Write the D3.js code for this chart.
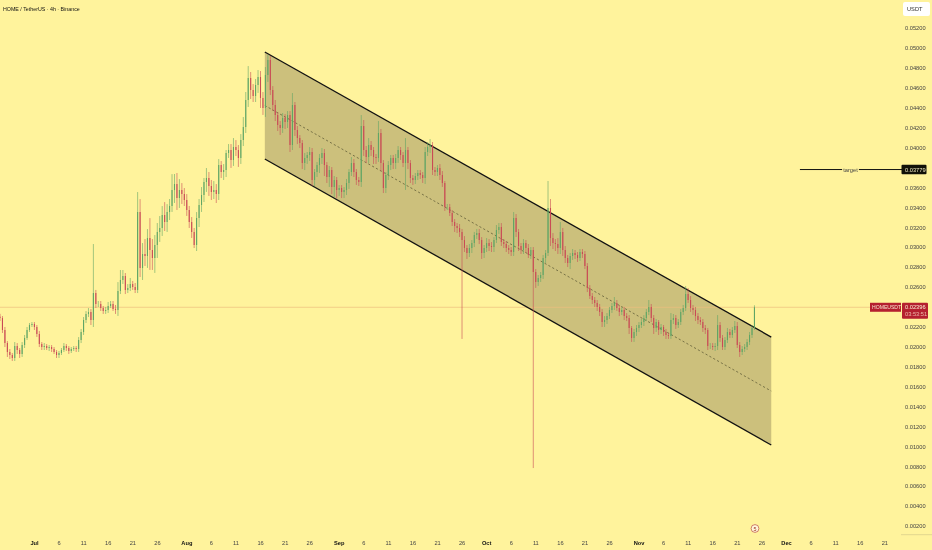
<!DOCTYPE html>
<html>
<head>
<meta charset="utf-8">
<title>HOMEUSDT</title>
<script src="https://cdnjs.cloudflare.com/ajax/libs/d3/7.8.5/d3.min.js"></script>
<style>
html,body{margin:0;padding:0;background:#FFF39C;overflow:hidden;}
text{font-family:"Liberation Sans",Arial,sans-serif;}
</style>
</head>
<body>
<script>
//=======================================================================
// prices are in units of 0.00001 USDT, one bar every 12h from the left edge
var v_FirstBar = "2025-06-24T02:00:00Z";
var v_FirstOpen = 2300;
var v_Closes = [
	2288,2168,2037,1947,1917,1887,2007,1967,1927,2017,
	2088,2168,2218,2228,2198,2128,2027,1997,2007,1987,
	1997,1977,1947,1917,1937,1967,2007,1987,1957,1977,
	1987,1977,2067,2148,2268,2328,2348,2268,2540,2429,
	2429,2389,2359,2369,2409,2429,2379,2369,2559,2670,
	2710,2569,2589,2630,2600,2569,3352,2790,2931,2911,
	3091,2971,2891,3021,3152,3192,3322,3252,3352,3413,
	3573,3634,3493,3573,3533,3473,3373,3252,3152,3021,
	3292,3423,3523,3654,3694,3614,3553,3573,3533,3824,
	3754,3774,3945,3975,3875,4005,3975,3895,4075,4206,
	4477,4698,4577,4517,4628,4708,4497,4397,4728,4879,
	4577,4427,4326,4226,4196,4296,4256,4326,4025,4427,
	4176,4095,4045,3844,3895,3925,3955,3674,3754,3824,
	3895,3945,3824,3704,3774,3603,3674,3573,3593,3553,
	3573,3644,3754,3844,3754,3674,3654,4216,3975,3905,
	4025,3975,3905,3895,4146,3844,3593,3724,3824,3895,
	3844,3895,3975,3925,3844,3975,3844,3694,3674,3714,
	3744,3724,3694,3955,4005,4025,3774,3754,3794,3724,
	3644,3403,3403,3342,3252,3212,3192,3152,3071,2991,
	2941,2991,3041,3122,3142,3071,2941,2991,3041,3011,
	3001,3071,3172,3202,3051,3031,2991,2971,2951,3292,
	3152,3011,2971,3041,2991,2921,2971,2750,2650,2690,
	2720,2891,2941,3393,3091,3041,3031,2991,3152,2971,
	2891,2840,2911,2941,2921,2891,2951,2931,2810,2589,
	2509,2469,2439,2399,2348,2248,2268,2308,2369,2409,
	2439,2389,2348,2369,2308,2288,2188,2088,2148,2188,
	2218,2248,2288,2348,2399,2288,2188,2248,2168,2198,
	2148,2118,2108,2268,2288,2218,2248,2348,2389,2529,
	2469,2389,2369,2308,2268,2248,2188,2168,2007,2007,
	1997,2007,2218,2088,1997,2067,2148,2118,2168,2208,
	2017,1947,1977,1997,2047,2118,2188,2396
];
var v_WicksUp = [
	30,20,30,20,30,20,40,30,20,30,
	30,30,20,20,20,20,30,20,30,20,
	20,20,20,20,20,20,30,20,20,20,
	20,20,30,30,30,30,40,30,491,30,
	30,30,20,30,40,30,30,40,90,100,
	60,30,40,60,30,40,201,130,110,150,
	90,200,110,100,90,120,90,130,80,70,
	160,100,110,110,70,60,60,40,50,40,
	60,60,80,40,100,60,60,90,60,60,
	40,60,30,60,60,90,70,50,60,100,
	80,120,60,60,60,70,60,60,80,50,
	40,40,50,30,40,50,40,40,40,120,
	30,40,30,30,50,30,50,40,30,30,
	40,50,40,30,40,30,40,30,30,30,
	30,40,30,60,40,30,30,110,60,40,
	70,40,30,30,120,40,30,30,40,30,
	30,40,40,30,30,120,30,30,30,30,
	30,30,30,50,50,60,30,30,30,40,
	40,20,30,30,30,30,30,40,30,40,
	30,40,30,30,40,40,30,30,50,40,
	40,30,50,40,40,30,30,30,30,60,
	40,30,30,40,30,40,30,30,30,30,
	30,30,30,271,90,50,40,60,100,40,
	40,30,30,40,30,30,30,30,30,30,
	30,30,30,30,30,30,40,30,30,30,
	60,30,30,30,30,30,30,20,30,30,
	30,30,30,30,70,30,30,30,20,30,
	20,30,20,70,40,30,30,30,30,80,
	60,40,30,30,30,30,30,30,20,30,
	30,30,100,30,30,30,40,30,30,50,
	40,30,30,30,30,30,30,20
];
var v_WicksDown = [
	30,30,40,50,40,30,30,40,40,30,
	30,20,20,20,30,30,30,30,30,20,
	30,30,20,30,30,20,20,30,30,20,
	20,30,30,30,30,30,30,50,70,40,
	30,30,30,30,30,20,20,40,60,30,
	40,40,30,30,30,30,30,90,120,100,
	120,200,120,150,130,100,80,90,100,80,
	60,130,120,100,100,60,60,60,60,30,
	60,90,70,70,100,100,80,70,90,60,
	60,80,70,50,80,60,60,90,60,60,
	60,70,90,60,60,80,100,70,90,70,
	50,60,60,60,70,50,70,60,70,50,
	60,60,50,60,70,60,60,60,60,50,
	80,60,110,60,100,70,100,80,60,60,
	60,50,60,40,50,50,40,50,60,60,
	60,60,70,60,40,80,50,50,50,50,
	60,60,50,50,40,270,60,50,50,40,
	40,40,50,60,40,60,50,40,40,50,
	40,40,30,30,40,60,50,50,993,40,
	60,40,50,40,40,40,60,50,40,50,
	50,50,30,40,40,40,40,40,40,40,
	50,50,40,40,50,30,40,1968,60,40,
	40,40,50,30,80,60,70,60,60,60,
	50,40,60,40,40,40,30,40,30,40,
	30,40,40,40,40,50,50,40,30,30,
	40,30,40,30,40,30,60,40,40,40,
	40,30,40,30,30,40,60,40,50,40,
	40,40,30,30,40,40,30,30,30,30,
	30,40,50,50,40,30,40,40,40,30,
	30,40,40,40,30,30,30,30,30,30,
	30,50,30,30,30,30,30,20
];
var v_PriceTicks = [200,400,600,800,1000,1200,1400,1600,1800,2000,2200,2400,2600,2800,3000,3200,3400,3600,3800,4000,4200,4400,4600,4800,5000,5200];
var v_DateTicks = [
	"2025-07-01","2025-07-06","2025-07-11","2025-07-16","2025-07-21","2025-07-26",
	"2025-08-01","2025-08-06","2025-08-11","2025-08-16","2025-08-21","2025-08-26",
	"2025-09-01","2025-09-06","2025-09-11","2025-09-16","2025-09-21","2025-09-26",
	"2025-10-01","2025-10-06","2025-10-11","2025-10-16","2025-10-21","2025-10-26",
	"2025-11-01","2025-11-06","2025-11-11","2025-11-16","2025-11-21","2025-11-26",
	"2025-12-01","2025-12-06","2025-12-11","2025-12-16","2025-12-21"
];
var v_DateLabels = [
	"Jul","6","11","16","21","26",
	"Aug","6","11","16","21","26",
	"Sep","6","11","16","21","26",
	"Oct","6","11","16","21","26",
	"Nov","6","11","16","21","26",
	"Dec","6","11","16","21"
];
var v_ChannelDates = ["2025-08-16T23:00:00Z","2025-11-28T00:00:00Z"];
var v_ChannelUpper = [4959,2097];
var v_ChannelMiddle = [4422,1555];
var v_ChannelLower = [3885,1013];
var v_LastPrice = 2396;
var v_TargetPrice = 3779;
var v_TargetDates = ["2025-12-03T20:00:00Z","2025-12-12T10:00:00Z","2025-12-15T20:00:00Z","2025-12-25T12:00:00Z"];
//-----------------------------------------------------------------------
var v_Width = 932, v_Height = 550;
var v_BarDate = d3.isoParse(v_FirstBar);

var x = d3.scaleUtc()
	.domain([d3.isoParse("2025-07-01"), d3.isoParse("2025-12-01")])
	.range([34, 786]);
var y = d3.scaleLinear()
	.domain([200, 5200])
	.range([526, 28]);

var v_Bars = v_Closes.map(function(c, i){
	var o = i == 0 ? v_FirstOpen : v_Closes[i-1];
	return {
		date: d3.utcHour.offset(v_BarDate, i*12),
		open: o,
		close: c,
		high: Math.max(o, c) + v_WicksUp[i],
		low: Math.min(o, c) - v_WicksDown[i]
	};
});

f_Draw();
//-----------------------------------------------------------------------
function f_Draw()
{
	// the reference is a soft, downscaled screenshot
	var v_Canvas = d3.select("body")
		.append("svg")
		.attr("width", v_Width)
		.attr("height", v_Height)
		.style("display", "block")
		.style("filter", "blur(0.35px)");

	v_Canvas.append("rect")
		.attr("width", v_Width)
		.attr("height", v_Height)
		.attr("fill", "#FFF39C");

	// channel
	var v_Dates = v_ChannelDates.map(d3.isoParse);
	v_Canvas.append("path")
		.attr("d", d3.line()([
			[x(v_Dates[0]), y(v_ChannelUpper[0])],
			[x(v_Dates[1]), y(v_ChannelUpper[1])],
			[x(v_Dates[1]), y(v_ChannelLower[1])],
			[x(v_Dates[0]), y(v_ChannelLower[0])]
		]) + "Z")
		.attr("fill", "#CCC07C");

	// last price line
	v_Canvas.append("line")
		.attr("x1", 0).attr("x2", 870)
		.attr("y1", y(v_LastPrice)).attr("y2", y(v_LastPrice))
		.attr("stroke", "#EBBE7E")
		.attr("stroke-opacity", 0.8)
		.attr("stroke-width", 0.9);

	[[v_ChannelUpper, 1.3], [v_ChannelLower, 1.3]].forEach(function(d){
		v_Canvas.append("line")
			.attr("x1", x(v_Dates[0])).attr("y1", y(d[0][0]))
			.attr("x2", x(v_Dates[1])).attr("y2", y(d[0][1]))
			.attr("stroke", "#111")
			.attr("stroke-width", d[1]);
	});
	v_Canvas.append("line")
		.attr("x1", x(v_Dates[0])).attr("y1", y(v_ChannelMiddle[0]))
		.attr("x2", x(v_Dates[1])).attr("y2", y(v_ChannelMiddle[1]))
		.attr("stroke", "#55512f")
		.attr("stroke-width", 0.7)
		.attr("stroke-dasharray", "2.2 2.2");

	// candles
	var v_Candles = v_Canvas.append("g").selectAll("g")
		.data(v_Bars)
		.enter()
		.append("g")
		.attr("stroke", function(d){ return d.close >= d.open ? "#5FA565" : "#C94A55"; });

	v_Candles.append("line")
		.attr("x1", function(d){ return x(d.date); })
		.attr("x2", function(d){ return x(d.date); })
		.attr("y1", function(d){ return y(d.high); })
		.attr("y2", function(d){ return y(d.low); })
		.attr("stroke-width", 0.9)
		.attr("stroke-opacity", 0.65);

	v_Candles.append("line")
		.attr("x1", function(d){ return x(d.date); })
		.attr("x2", function(d){ return x(d.date); })
		.attr("y1", function(d){ return y(d.open); })
		.attr("y2", function(d){ return y(d.close); })
		.attr("stroke-width", 1.1);

	// axes
	var v_AxisY = v_Canvas.append("g")
		.attr("transform", "translate(905,0)")
		.call(d3.axisRight(y)
			.tickValues(v_PriceTicks)
			.tickSize(0)
			.tickPadding(0)
			.tickFormat(function(d){ return (d/100000).toFixed(5); }));
	v_AxisY.select(".domain").remove();
	v_AxisY.selectAll("text")
		.attr("fill", "#444")
		.style("font-size", "5.7px");

	var v_AxisX = v_Canvas.append("g")
		.attr("transform", "translate(0,540.5)")
		.call(d3.axisBottom(x)
			.tickValues(v_DateTicks.map(d3.isoParse))
			.tickSize(0)
			.tickPadding(0)
			.tickFormat(function(d, i){ return v_DateLabels[i]; }));
	v_AxisX.select(".domain").remove();
	v_AxisX.selectAll("text")
		.attr("fill", function(d, i){ return isNaN(+v_DateLabels[i]) ? "#111" : "#444"; })
		.style("font-weight", function(d, i){ return isNaN(+v_DateLabels[i]) ? "bold" : "normal"; })
		.style("font-size", "5.7px");

	v_Canvas.append("line")
		.attr("x1", 901).attr("x2", v_Width)
		.attr("y1", 534.7).attr("y2", 534.7)
		.attr("stroke", "#D9CE8A")
		.attr("stroke-width", 0.8);

	// title
	v_Canvas.append("text")
		.attr("x", 3).attr("y", 10.7)
		.attr("fill", "#111")
		.style("font-size", "5.3px")
		.text("HOME / TetherUS \u00B7 4h \u00B7 Binance");

	// currency box
	v_Canvas.append("rect")
		.attr("x", 903).attr("y", 2)
		.attr("width", 27).attr("height", 14)
		.attr("rx", 2)
		.attr("fill", "#FFFFFF");
	v_Canvas.append("text")
		.attr("x", 907).attr("y", 11)
		.attr("fill", "#333")
		.style("font-size", "5.7px")
		.text("USDT");

	// target line
	var v_TargetY = y(v_TargetPrice);
	var v_T = v_TargetDates.map(d3.isoParse);
	[[v_T[0], v_T[1]], [v_T[2], v_T[3]]].forEach(function(d){
		v_Canvas.append("line")
			.attr("x1", x(d[0])).attr("x2", x(d[1]))
			.attr("y1", v_TargetY).attr("y2", v_TargetY)
			.attr("stroke", "#111")
			.attr("stroke-width", 1);
	});
	v_Canvas.append("text")
		.attr("x", 850.5).attr("y", v_TargetY + 2)
		.attr("text-anchor", "middle")
		.attr("fill", "#444")
		.style("font-size", "5.7px")
		.text("target");
	v_Canvas.append("rect")
		.attr("x", 901.5).attr("y", v_TargetY - 4.7)
		.attr("width", 25).attr("height", 9.4)
		.attr("rx", 1)
		.attr("fill", "#111108");
	v_Canvas.append("text")
		.attr("x", 905).attr("y", v_TargetY + 2)
		.attr("fill", "#EEE8C0")
		.style("font-size", "5.7px")
		.text((v_TargetPrice/100000).toFixed(5));

	// last price labels
	var v_LastY = y(v_LastPrice);
	v_Canvas.append("rect")
		.attr("x", 870).attr("y", v_LastY - 4.5)
		.attr("width", 31).attr("height", 9)
		.attr("fill", "#B5202F");
	v_Canvas.append("text")
		.attr("x", 872).attr("y", v_LastY + 2)
		.attr("fill", "#F7E4D0")
		.style("font-size", "5.1px")
		.text("HOMEUSDT");
	v_Canvas.append("rect")
		.attr("x", 902).attr("y", v_LastY - 4.5)
		.attr("width", 26).attr("height", 16)
		.attr("rx", 1)
		.attr("fill", "#B5202F");
	v_Canvas.append("text")
		.attr("x", 905).attr("y", v_LastY + 2)
		.attr("fill", "#FBEFD8")
		.style("font-size", "5.7px")
		.text((v_LastPrice/100000).toFixed(5));
	v_Canvas.append("text")
		.attr("x", 905).attr("y", v_LastY + 9)
		.attr("fill", "#EDB9A8")
		.style("font-size", "5.7px")
		.text("03:53:51");

	// marker above the time axis
	v_Canvas.append("circle")
		.attr("cx", 755).attr("cy", 528.5)
		.attr("r", 3.9)
		.attr("fill", "#FFF9DC")
		.attr("stroke", "#C4604F")
		.attr("stroke-width", 0.8);
	v_Canvas.append("text")
		.attr("x", 755).attr("y", 530.5)
		.attr("text-anchor", "middle")
		.attr("fill", "#A03020")
		.style("font-size", "5.4px")
		.text("5");
}
//=======================================================================
</script>
</body>
</html>
